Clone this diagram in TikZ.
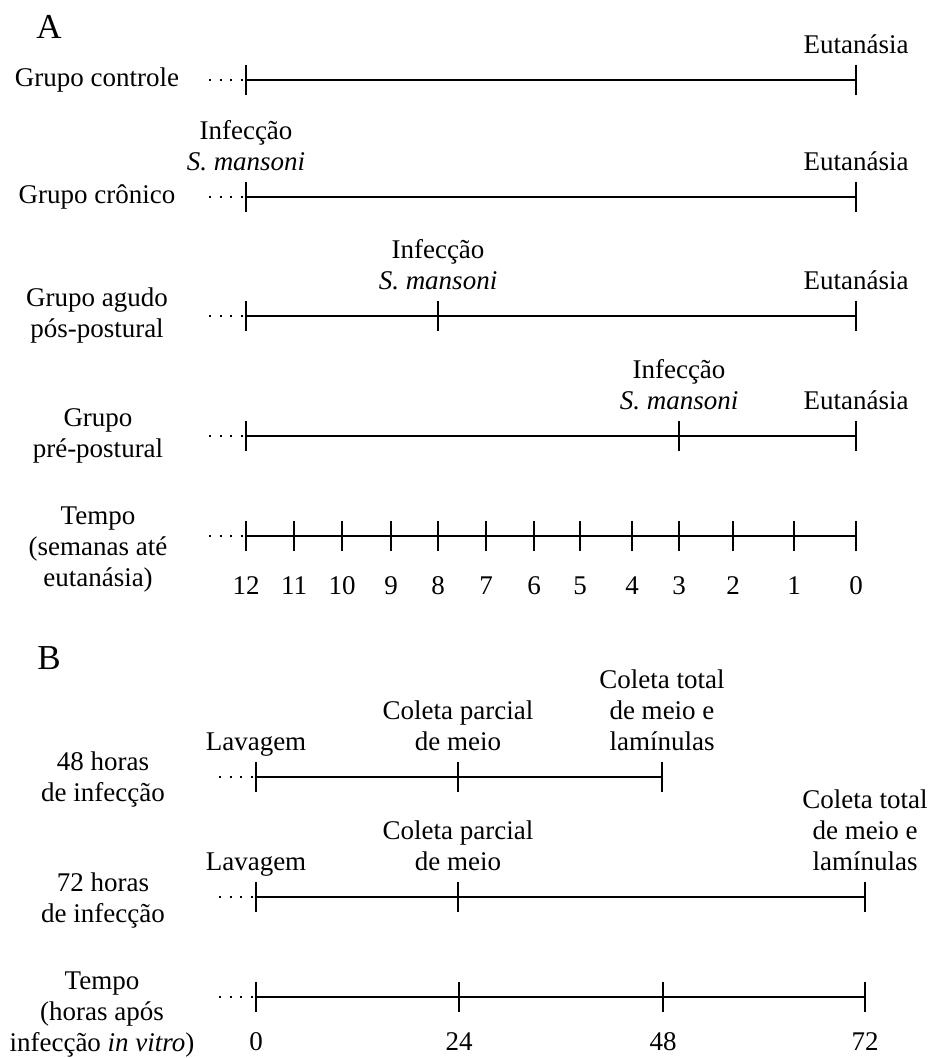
\documentclass[tikz,border=0pt]{standalone}
\usepackage{fontspec}
\setmainfont{Liberation Serif}
\usetikzlibrary{positioning}

\begin{document}
\begin{tikzpicture}[
    x=0.5pt, y=-0.5pt,
    font=\fontsize{13.5}{15.5}\selectfont,
    axis/.style={line width=1.4pt},
    tick/.style={line width=1pt},
    lead/.style={line width=1.2pt, dash pattern=on 1.2pt off 4.05pt},
    lbl/.style={align=center, inner sep=0pt, text depth=0pt},
    grp/.style={align=center, inner sep=0pt},
    num/.style={inner sep=0pt},
    panel/.style={inner sep=0pt, font=\fontsize{17.5}{20}\selectfont}
  ]
  \useasboundingbox (0,0) rectangle (928,1058);

  % A: grupos experimentais
  \node[panel] (pA) at (49,27) {A};

  \node[grp] (gctrl) at (97,80) {Grupo controle};
  \coordinate (ctrl0) at (246,80);
  \coordinate (ctrl1) at (856,80);
  \coordinate (ctrlD) at (209,80);
  \draw[axis] (ctrl0) -- (ctrl1);
  \draw[lead] (ctrlD) -- (ctrl0);
  \foreach \t in {ctrl0,ctrl1} \draw[tick] (\t) ++(0,-15) -- ++(0,30);
  \node[lbl, above=13pt of ctrl1] (ctrlE) {Eutanásia};

  \node[grp] (gcron) at (97,197) {Grupo crônico};
  \coordinate (cron0) at (246,197);
  \coordinate (cron1) at (856,197);
  \coordinate (cronD) at (209,197);
  \draw[axis] (cron0) -- (cron1);
  \draw[lead] (cronD) -- (cron0);
  \foreach \t in {cron0,cron1} \draw[tick] (\t) ++(0,-15) -- ++(0,30);
  \node[lbl, above=13pt of cron0] (cronI) {Infecção\\\textit{S. mansoni}};
  \node[lbl, above=13pt of cron1] (cronE) {Eutanásia};

  \node[grp] (gagudo) at (97,316) {Grupo agudo\\pós-postural};
  \coordinate (agu0) at (246,316);
  \coordinate (aguI) at (438,316);
  \coordinate (agu1) at (856,316);
  \coordinate (aguD) at (209,316);
  \draw[axis] (agu0) -- (agu1);
  \draw[lead] (aguD) -- (agu0);
  \foreach \t in {agu0,aguI,agu1} \draw[tick] (\t) ++(0,-15) -- ++(0,30);
  \node[lbl, above=13pt of aguI] (aguInf) {Infecção\\\textit{S. mansoni}};
  \node[lbl, above=13pt of agu1] (aguE) {Eutanásia};

  \node[grp] (gpre) at (98,436) {Grupo\\pré-postural};
  \coordinate (pre0) at (246,436);
  \coordinate (preI) at (679,436);
  \coordinate (pre1) at (856,436);
  \coordinate (preD) at (209,436);
  \draw[axis] (pre0) -- (pre1);
  \draw[lead] (preD) -- (pre0);
  \foreach \t in {pre0,preI,pre1} \draw[tick] (\t) ++(0,-15) -- ++(0,30);
  \node[lbl, above=13pt of preI] (preInf) {Infecção\\\textit{S. mansoni}};
  \node[lbl, above=13pt of pre1] (preE) {Eutanásia};

  % eixo em semanas
  \node[grp] (tsem) at (98,550) {Tempo\\(semanas até\\eutanásia)};
  \coordinate (sem0) at (246,536);
  \coordinate (sem1) at (856,536);
  \coordinate (semD) at (209,536);
  \draw[axis] (sem0) -- (sem1);
  \draw[lead] (semD) -- (sem0);
  \foreach \x/\w in {246/12,294/11,342/10,391/9,438/8,486/7,534/6,580/5,632/4,679/3,733/2,794/1,856/0} {
    \coordinate (s\w) at (\x,536);
    \draw[tick] (s\w) ++(0,-15) -- ++(0,30);
    \node[num, below=20pt of s\w, anchor=north] (n\w) {\w};
  }

  % B: infeccao in vitro
  \node[panel] (pB) at (49,658) {B};

  \node[grp] (g48) at (103,779) {48 horas\\de infecção};
  \coordinate (h48a) at (256,777);
  \coordinate (h48b) at (458,777);
  \coordinate (h48c) at (662,777);
  \coordinate (h48D) at (219,777);
  \draw[axis] (h48a) -- (h48c);
  \draw[lead] (h48D) -- (h48a);
  \foreach \t in {h48a,h48b,h48c} \draw[tick] (\t) ++(0,-15) -- ++(0,30);
  \node[lbl, above=13pt of h48a] (lav48) {Lavagem};
  \node[lbl, above=13pt of h48b] (par48) {Coleta parcial\\de meio};
  \node[lbl, above=13pt of h48c] (tot48) {Coleta total\\de meio e\\lamínulas};

  \node[grp] (g72) at (103,900) {72 horas\\de infecção};
  \coordinate (h72a) at (256,897);
  \coordinate (h72b) at (458,897);
  \coordinate (h72c) at (865,897);
  \coordinate (h72D) at (219,897);
  \draw[axis] (h72a) -- (h72c);
  \draw[lead] (h72D) -- (h72a);
  \foreach \t in {h72a,h72b,h72c} \draw[tick] (\t) ++(0,-15) -- ++(0,30);
  \node[lbl, above=13pt of h72a] (lav72) {Lavagem};
  \node[lbl, above=13pt of h72b] (par72) {Coleta parcial\\de meio};
  \node[lbl, above=13pt of h72c] (tot72) {Coleta total\\de meio e\\lamínulas};

  % eixo em horas
  \node[grp] (thor) at (102,1015) {Tempo\\(horas após\\infecção \textit{in vitro})};
  \coordinate (hor0) at (256,997);
  \coordinate (hor1) at (865,997);
  \coordinate (horD) at (219,997);
  \draw[axis] (hor0) -- (hor1);
  \draw[lead] (horD) -- (hor0);
  \foreach \x/\h in {256/0,459/24,663/48,865/72} {
    \coordinate (r\h) at (\x,997);
    \draw[tick] (r\h) ++(0,-15) -- ++(0,30);
    \node[num, below=17.5pt of r\h, anchor=north] (m\h) {\h};
  }
\end{tikzpicture}
\end{document}
